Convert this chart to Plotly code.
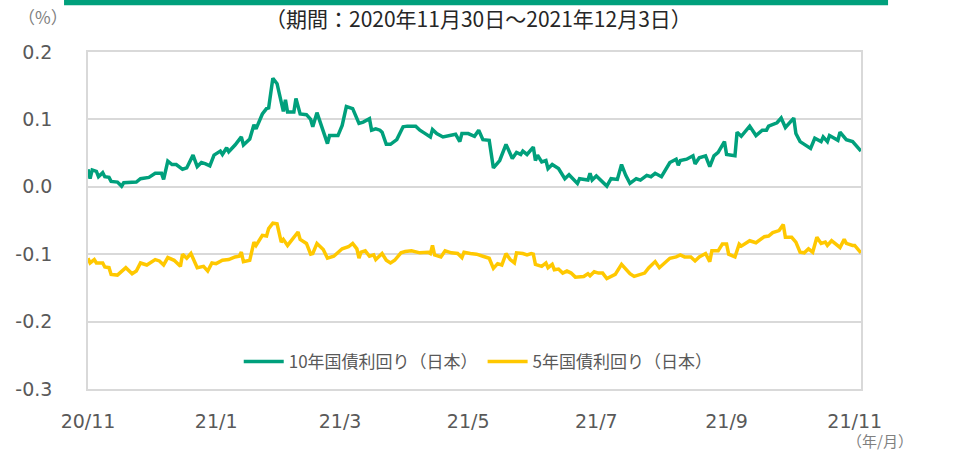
import pandas as pd
import plotly.graph_objects as go

START = "2020-11-30"
END = "2021-12-03"

# x tick positions / labels
tick_dates = ["2020-11-30", "2021-01-30", "2021-03-30", "2021-05-30", "2021-07-30", "2021-09-30", "2021-11-30"]
tick_labels = ["20/11", "21/1", "21/3", "21/5", "21/7", "21/9", "21/11"]

y_ticks = [0.2, 0.1, 0.0, -0.1, -0.2, -0.3]
y_tick_labels = ["0.2", "0.1", "0.0", "-0.1", "-0.2", "-0.3"]

# 10-year JGB yield (days since 2020-11-30, %)
jgb10_days = [0, 1, 2, 4, 5, 7, 8, 10, 11, 14,
              16, 17, 23, 25, 29, 32, 35, 36, 38, 40,
              42, 45, 47, 50, 52, 54, 56, 58, 60, 63,
              64, 66, 67, 70, 73, 74, 77, 79, 80, 83,
              85, 86, 88, 90, 93, 94, 95, 98, 99, 101,
              104, 106, 107, 109, 114, 115, 119, 121, 123, 126,
              129, 131, 134, 135, 137, 139, 140, 142, 144, 147,
              150, 152, 156, 158, 160, 163, 164, 166, 169, 172,
              175, 177, 178, 181, 184, 186, 188, 191, 193, 196,
              199, 202, 204, 206, 207, 209, 212, 213, 214, 216,
              218, 219, 221, 224, 227, 229, 231, 233, 234, 238,
              239, 240, 242, 245, 247, 249, 252, 254, 256, 258,
              261, 263, 266, 268, 270, 273, 276, 277, 280, 281,
              282, 285, 288, 289, 291, 294, 296, 298, 300, 302,
              303, 304, 308, 309, 311, 315, 318, 321, 323, 324,
              328, 330, 332, 336, 337, 339, 341, 344, 346, 349,
              350, 352, 353, 357, 358, 361, 364, 366, 368]
jgb10_vals = [0.026, 0.012, 0.025, 0.023, 0.015, 0.021, 0.015, 0.014, 0.008, 0.007,
              0.001, 0.006, 0.007, 0.012, 0.014, 0.020, 0.020, 0.011, 0.038, 0.033,
              0.033, 0.026, 0.028, 0.047, 0.030, 0.036, 0.034, 0.031, 0.047, 0.053,
              0.048, 0.058, 0.052, 0.062, 0.074, 0.062, 0.071, 0.092, 0.086, 0.108,
              0.116, 0.117, 0.161, 0.153, 0.112, 0.129, 0.111, 0.111, 0.131, 0.108,
              0.107, 0.100, 0.089, 0.110, 0.064, 0.076, 0.076, 0.091, 0.119, 0.116,
              0.094, 0.096, 0.101, 0.084, 0.086, 0.084, 0.081, 0.063, 0.063, 0.070,
              0.089, 0.090, 0.090, 0.084, 0.080, 0.074, 0.085, 0.079, 0.074, 0.076,
              0.078, 0.067, 0.079, 0.079, 0.075, 0.084, 0.070, 0.069, 0.028, 0.039,
              0.063, 0.042, 0.051, 0.048, 0.053, 0.048, 0.059, 0.039, 0.047, 0.037,
              0.039, 0.027, 0.033, 0.027, 0.012, 0.018, 0.012, 0.005, 0.012, 0.010,
              0.020, 0.010, 0.016, 0.007, 0.001, 0.012, 0.011, 0.033, 0.017, 0.005,
              0.012, 0.010, 0.017, 0.015, 0.020, 0.015, 0.030, 0.036, 0.041, 0.032,
              0.039, 0.041, 0.046, 0.034, 0.043, 0.046, 0.030, 0.046, 0.051, 0.062,
              0.067, 0.048, 0.046, 0.081, 0.075, 0.090, 0.076, 0.084, 0.084, 0.090,
              0.095, 0.102, 0.088, 0.102, 0.079, 0.067, 0.063, 0.057, 0.072, 0.067,
              0.074, 0.067, 0.076, 0.069, 0.081, 0.070, 0.067, 0.059, 0.053]

# 5-year JGB yield (days since 2020-11-30, %)
jgb5_days = [0, 1, 3, 4, 7, 8, 10, 11, 14, 16,
             18, 21, 23, 25, 28, 32, 34, 36, 38, 41,
             44, 45, 47, 49, 52, 55, 57, 59, 61, 64,
             67, 70, 72, 73, 74, 77, 79, 80, 83, 85,
             86, 88, 90, 92, 93, 95, 100, 101, 104, 106,
             107, 109, 112, 114, 117, 121, 124, 126, 128, 129,
             130, 132, 134, 136, 137, 140, 142, 144, 146, 149,
             151, 154, 156, 158, 162, 163, 164, 165, 168, 170,
             173, 176, 178, 179,
             182, 185, 188, 191, 193, 195, 197, 199, 201, 203,
             204, 207, 209, 211, 212, 213, 216, 218, 219, 221,
             222, 224, 226, 228, 230, 232, 236, 238, 239, 241,
             243, 245, 247, 249, 251, 254, 256, 258, 260, 263,
             265, 267, 270, 272, 274, 277, 280, 282, 284, 287,
             289, 291, 294, 296, 297, 300, 302, 304, 305, 308,
             310, 311, 315, 318, 322, 324, 326, 329, 331, 332,
             335, 337, 339, 341, 343, 345, 347, 349, 351, 352,
             354, 358, 360, 361, 364, 365, 368]
jgb5_vals = [-0.106, -0.113, -0.108, -0.113, -0.113, -0.119, -0.120, -0.130, -0.131, -0.126,
             -0.120, -0.129, -0.125, -0.113, -0.116, -0.108, -0.110, -0.116, -0.105, -0.109,
             -0.118, -0.100, -0.106, -0.099, -0.120, -0.118, -0.125, -0.113, -0.114, -0.109,
             -0.108, -0.104, -0.103, -0.097, -0.111, -0.109, -0.082, -0.087, -0.072, -0.073,
             -0.062, -0.054, -0.055, -0.082, -0.078, -0.087, -0.067, -0.078, -0.084, -0.100,
             -0.099, -0.084, -0.093, -0.106, -0.103, -0.092, -0.089, -0.084, -0.092, -0.106,
             -0.097, -0.095, -0.103, -0.101, -0.108, -0.099, -0.109, -0.113, -0.109, -0.098,
             -0.096, -0.095, -0.096, -0.098, -0.097, -0.099, -0.087, -0.101, -0.104, -0.095,
             -0.098, -0.099, -0.105, -0.097,
             -0.099, -0.100, -0.103, -0.106, -0.121, -0.114, -0.116, -0.099, -0.108, -0.113,
             -0.098, -0.099, -0.101, -0.099, -0.100, -0.115, -0.118, -0.113, -0.120, -0.115,
             -0.123, -0.122, -0.128, -0.125, -0.128, -0.134, -0.133, -0.129, -0.132, -0.126,
             -0.128, -0.128, -0.136, -0.133, -0.130, -0.115, -0.123, -0.129, -0.133, -0.130,
             -0.128, -0.120, -0.111, -0.120, -0.115, -0.106, -0.104, -0.101, -0.104, -0.104,
             -0.110, -0.104, -0.099, -0.111, -0.095, -0.095, -0.085, -0.085, -0.100, -0.104,
             -0.085, -0.088, -0.080, -0.083, -0.074, -0.073, -0.068, -0.065, -0.056, -0.075,
             -0.075, -0.082, -0.097, -0.098, -0.092, -0.097, -0.075, -0.084, -0.082, -0.087,
             -0.080, -0.090, -0.078, -0.084, -0.087, -0.087, -0.098]

series_names = ["10年国債利回り（日本）", "5年国債利回り（日本）"]
series_colors = ["#00A07C", "#FFC800"]
title_text = "（期間：2020年11月30日～2021年12月3日）"
y_unit = "（%）"
x_unit = "（年/月）"

start = pd.Timestamp(START)
to_dates = lambda days: [start + pd.Timedelta(days=d) for d in days]

GRID = "#d9d9d9"
TICK_FONT = dict(family="DejaVu Sans", size=19, color="#595959")
JP = "Noto Sans CJK JP"

fig = go.Figure()
fig.add_trace(go.Scatter(x=to_dates(jgb10_days), y=jgb10_vals, mode="lines",
                         name=series_names[0], line=dict(color=series_colors[0], width=3.5)))
fig.add_trace(go.Scatter(x=to_dates(jgb5_days), y=jgb5_vals, mode="lines",
                         name=series_names[1], line=dict(color=series_colors[1], width=3.5)))

fig.update_layout(
    width=953, height=451,
    margin=dict(l=88, r=92, t=52, b=62),
    paper_bgcolor="white", plot_bgcolor="white",
    showlegend=True,
    legend=dict(orientation="h", x=0.195, y=0.08, xanchor="left", yanchor="middle",
                font=dict(family=JP, size=17, color="#595959"),
                bgcolor="rgba(0,0,0,0)", itemwidth=40, tracegroupgap=0),
    xaxis=dict(type="date", range=[START, END], tickvals=tick_dates, ticktext=tick_labels,
               ticks="", showgrid=False, zeroline=False,
               showline=True, mirror=True, linecolor=GRID, linewidth=1.5,
               tickfont=TICK_FONT, ticklabelstandoff=14),
    xaxis2=dict(type="date", range=[START, END], overlaying="x", anchor="free", position=0.6,
                tickvals=tick_dates, ticks="inside", ticklen=6, tickwidth=1.5, tickcolor=GRID,
                showticklabels=False, showgrid=False, zeroline=False,
                showline=True, linecolor=GRID, linewidth=1.5, layer="below traces"),
    yaxis=dict(range=[-0.3, 0.2], tickvals=y_ticks, ticktext=y_tick_labels,
               showgrid=True, gridcolor=GRID, gridwidth=1.5, zeroline=False,
               showline=True, mirror=True, linecolor=GRID, linewidth=1.5,
               ticks="", tickfont=TICK_FONT, ticklabelstandoff=30),
)

fig.add_shape(type="rect", xref="paper", yref="paper", x0=-0.031, x1=1.035, y0=1.139, y1=1.16,
              fillcolor=series_colors[0], line=dict(width=0), layer="above")
fig.add_annotation(text=title_text, xref="paper", yref="paper", x=0.505, y=1.101,
                   showarrow=False, xanchor="center", yanchor="middle",
                   font=dict(family=JP, size=21, color="#262626"))
fig.add_annotation(text=y_unit, xref="paper", yref="paper", x=-0.058, y=1.104,
                   showarrow=False, xanchor="center", yanchor="middle",
                   font=dict(family=JP, size=17, color="#808080"))
fig.add_annotation(text=x_unit, xref="paper", yref="paper", x=1.024, y=-0.152,
                   showarrow=False, xanchor="center", yanchor="middle", borderpad=0,
                   font=dict(family=JP, size=15, color="#808080"))

fig.write_html("out.html", config={"displayModeBar": False},
               post_script="document.body.style.margin='0px';")
